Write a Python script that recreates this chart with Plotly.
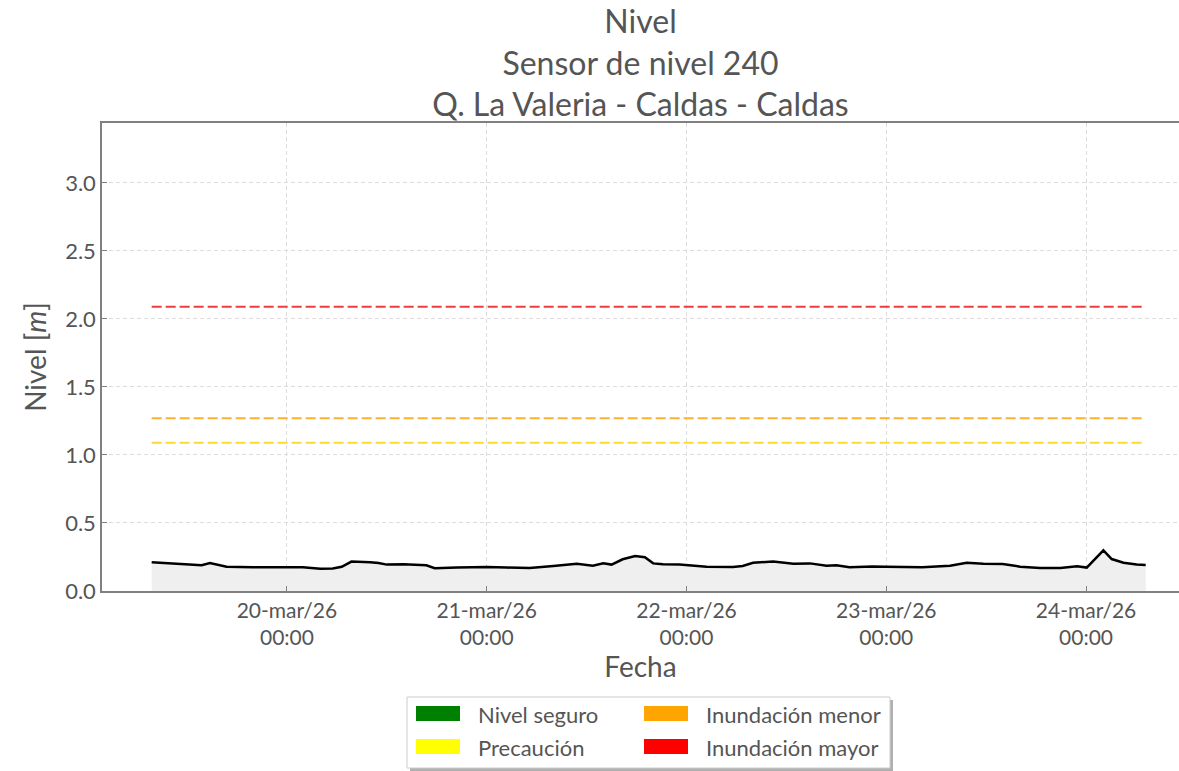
import plotly.graph_objects as go
import pandas as pd

# ---- data ----
times = [
    "2026-03-19 07:45", "2026-03-19 10:15", "2026-03-19 13:45", "2026-03-19 14:45",
    "2026-03-19 16:45", "2026-03-19 19:55", "2026-03-20 00:00", "2026-03-20 01:55",
    "2026-03-20 04:00", "2026-03-20 05:30", "2026-03-20 06:35", "2026-03-20 07:45",
    "2026-03-20 10:00", "2026-03-20 11:00", "2026-03-20 12:00", "2026-03-20 14:00",
    "2026-03-20 16:45", "2026-03-20 17:45", "2026-03-20 20:25", "2026-03-21 00:00",
    "2026-03-21 02:25", "2026-03-21 05:10", "2026-03-21 08:00", "2026-03-21 10:50",
    "2026-03-21 12:45", "2026-03-21 14:00", "2026-03-21 15:00", "2026-03-21 16:20",
    "2026-03-21 17:50", "2026-03-21 19:00", "2026-03-21 20:00", "2026-03-21 21:10",
    "2026-03-21 23:10", "2026-03-22 00:00", "2026-03-22 02:25", "2026-03-22 05:35",
    "2026-03-22 06:45", "2026-03-22 08:00", "2026-03-22 10:25", "2026-03-22 12:50",
    "2026-03-22 14:50", "2026-03-22 16:50", "2026-03-22 18:00", "2026-03-22 19:35",
    "2026-03-22 22:20", "2026-03-23 00:00", "2026-03-23 04:20", "2026-03-23 07:40",
    "2026-03-23 09:40", "2026-03-23 11:40", "2026-03-23 14:00", "2026-03-23 16:05",
    "2026-03-23 18:30", "2026-03-23 20:55", "2026-03-23 22:55", "2026-03-24 00:05",
    "2026-03-24 02:05", "2026-03-24 03:05", "2026-03-24 04:30", "2026-03-24 06:05",
    "2026-03-24 07:10",
]
nivel = [
    0.211, 0.203, 0.190, 0.206,
    0.179, 0.174, 0.176, 0.174,
    0.164, 0.166, 0.178, 0.216,
    0.211, 0.206, 0.194, 0.196,
    0.189, 0.167, 0.172, 0.176,
    0.172, 0.169, 0.184, 0.201,
    0.186, 0.203, 0.194, 0.233,
    0.257, 0.248, 0.203, 0.196,
    0.194, 0.189, 0.179, 0.176,
    0.184, 0.208, 0.216, 0.201,
    0.203, 0.186, 0.189, 0.174,
    0.181, 0.179, 0.174, 0.186,
    0.208, 0.201, 0.199, 0.179,
    0.169, 0.169, 0.181, 0.172,
    0.299, 0.235, 0.208, 0.194,
    0.191,
]
umbral_nombres = ["Precaución", "Inundación menor", "Inundación mayor"]
umbral_valores = [1.09, 1.27, 2.09]
umbral_colores = ["#ffd933", "#ffb030", "#f03c3c"]

legend_names = ["Nivel seguro", "Precaución", "Inundación menor", "Inundación mayor"]
legend_colors = ["#008000", "#ffff00", "#ffa500", "#ff0000"]

tick_vals = ["2026-03-20", "2026-03-21", "2026-03-22", "2026-03-23", "2026-03-24"]
tick_text = ["20-mar/26<br>00:00", "21-mar/26<br>00:00", "22-mar/26<br>00:00",
             "23-mar/26<br>00:00", "24-mar/26<br>00:00"]
x_range = ["2026-03-19 01:47", "2026-03-24 11:10"]
y_range = [0, 3.44]

FONT = "Lato"
GRAY = "#555555"

t = pd.to_datetime(times)

fig = go.Figure()
fig.add_trace(go.Scatter(
    x=t, y=nivel, mode="lines", fill="tozeroy",
    fillcolor="#efefef", line=dict(color="black", width=2.5),
    showlegend=False, hoverinfo="x+y",
))
for nm, v, c in zip(umbral_nombres, umbral_valores, umbral_colores):
    fig.add_trace(go.Scatter(
        x=[t[0], t[-1]], y=[v, v], mode="lines",
        line=dict(color=c, width=2, dash="10px,4px"),
        showlegend=False, name=nm,
    ))

# plot area pixel geometry
L, R, T, B = 102, 1179, 123, 591
W, H = 1179, 771


def px(x):
    return (x - L) / (R - L)


def py(y):
    return (B - y) / (B - T)


shapes = []
annotations = []
# legend box with shadow
shapes.append(dict(type="rect", xref="paper", yref="paper",
                   x0=px(410), x1=px(893), y0=py(700), y1=py(771),
                   fillcolor="#b0b0b0", line=dict(width=0), layer="above"))
shapes.append(dict(type="rect", xref="paper", yref="paper",
                   x0=px(407), x1=px(890), y0=py(697), y1=py(768),
                   fillcolor="white", line=dict(color="#cccccc", width=1), layer="above"))
pos = [(416, 706), (416, 739), (644, 706), (644, 739)]
for (sx, sy), nm, c in zip(pos, legend_names, legend_colors):
    shapes.append(dict(type="rect", xref="paper", yref="paper",
                       x0=px(sx), x1=px(sx + 44), y0=py(sy), y1=py(sy + 15),
                       fillcolor=c, line=dict(width=0), layer="above"))
    annotations.append(dict(xref="paper", yref="paper", x=px(sx + 60), y=py(sy + 8),
                            xanchor="left", yanchor="middle", text=nm, showarrow=False,
                            font=dict(family=FONT, size=22, color=GRAY)))

fig.update_layout(
    width=W, height=H,
    margin=dict(l=L, r=W - R, t=T, b=H - B),
    paper_bgcolor="white", plot_bgcolor="white",
    font=dict(family=FONT, color=GRAY),
    title=dict(text="Nivel<br>Sensor de nivel 240<br>Q. La Valeria - Caldas - Caldas",
               x=0.5, xref="paper", xanchor="center",
               y=1 - 33 / H, yref="container", yanchor="middle",
               font=dict(family=FONT, size=32, color=GRAY)),
    showlegend=False,
    shapes=shapes,
    annotations=annotations,
)
fig.update_xaxes(
    range=x_range, tickvals=tick_vals, ticktext=tick_text,
    tickfont=dict(family=FONT, size=21, color=GRAY),
    title=dict(text="Fecha", font=dict(family=FONT, size=28, color=GRAY), standoff=0),
    showgrid=True, gridcolor="#dcdcdc", griddash="4px,3px", gridwidth=1,
    showline=True, linecolor="#808080", linewidth=1.5, mirror=True,
    ticks="inside", ticklen=5, tickcolor="#808080", zeroline=False,
)
fig.update_yaxes(
    range=y_range, tickvals=[0, 0.5, 1.0, 1.5, 2.0, 2.5, 3.0], tickformat=".1f",
    tickfont=dict(family=FONT, size=22, color=GRAY),
    title=dict(text="Nivel [<i>m</i>]", font=dict(family=FONT, size=28, color=GRAY), standoff=10),
    showgrid=True, gridcolor="#dcdcdc", griddash="4px,3px", gridwidth=1,
    showline=True, linecolor="#808080", linewidth=1.5, mirror=False,
    ticks="inside", ticklen=5, tickcolor="#808080", zeroline=False,
)

fig.write_html(
    "out.html",
    config={"displayModeBar": False},
    post_script="document.documentElement.style.overflow='hidden';"
                "document.body.style.margin='0';document.body.style.overflow='hidden';",
)
